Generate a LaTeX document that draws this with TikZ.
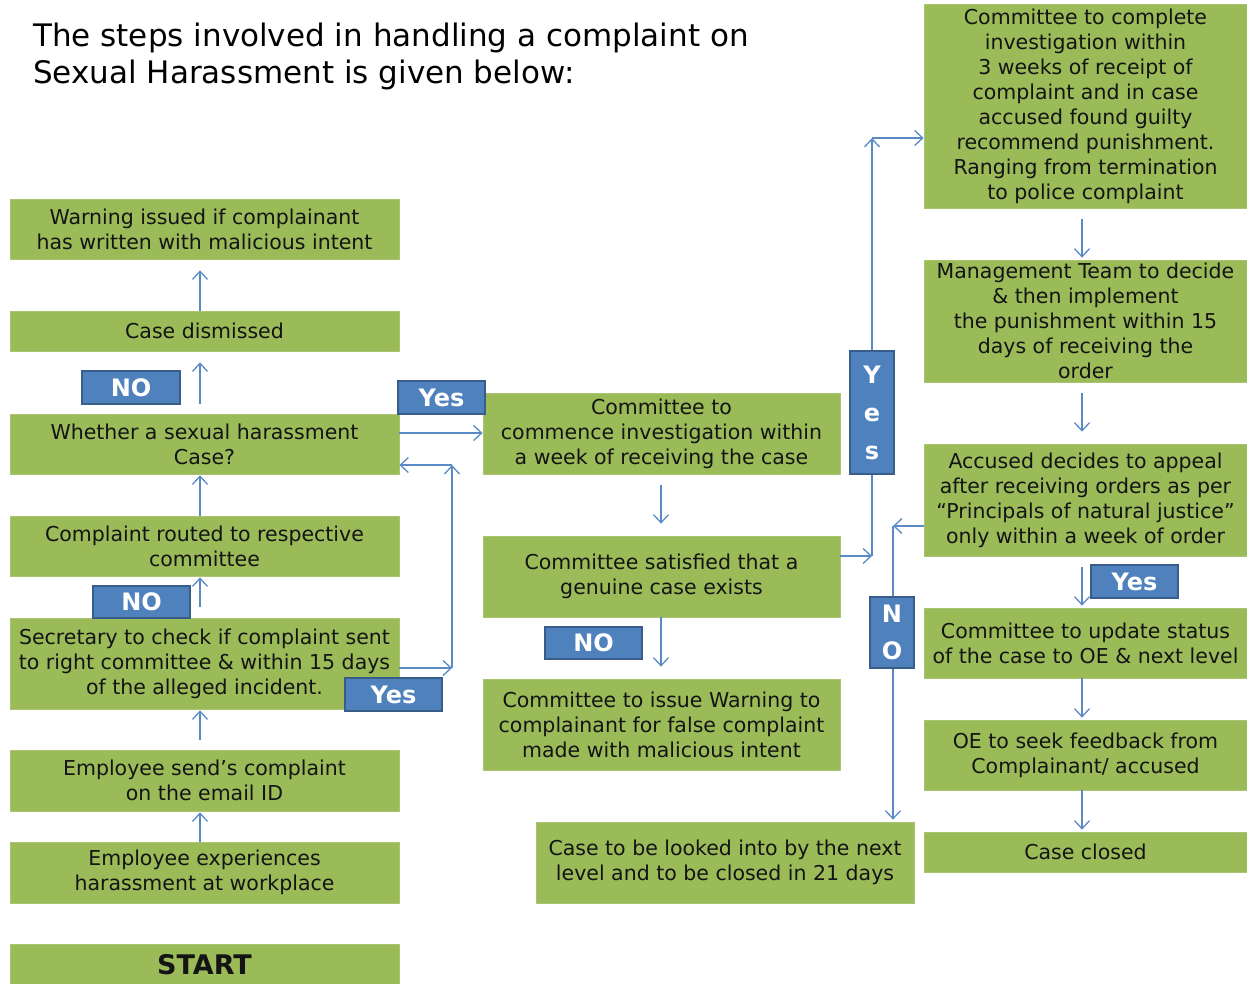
\documentclass[tikz,border=0pt]{standalone}
\usepackage{fontspec}
\setmainfont{DejaVu Sans}
\usetikzlibrary{arrows.meta,calc}
\definecolor{gfill}{HTML}{9BBB59}
\definecolor{gedge}{HTML}{A9C56F}
\definecolor{lfill}{HTML}{4F81BD}
\definecolor{ledge}{HTML}{385D8A}
\definecolor{conn}{HTML}{5A8AC6}
\newcommand{\boxfont}{\fontsize{20.5}{25}\selectfont}
\newcommand{\lblfont}{\bfseries\fontsize{24}{38}\selectfont}
\tikzset{
  gbox/.style={rectangle, fill=gfill, draw=gedge, line width=0.8pt, inner sep=0pt,
    align=center, text=black!92, font=\boxfont},
  lbl/.style={rectangle, fill=lfill, draw=ledge, line width=2pt, inner sep=0pt,
    align=center, text=white, font=\lblfont},
  arr/.style={draw=conn, line width=1.3pt, -{Straight Barb[length=8pt,width=15pt,line width=1.3pt]}}
}
\begin{document}
\begin{tikzpicture}[x=1pt,y=-1pt]
\useasboundingbox (0,0) rectangle (1247,983);

% title
\node[anchor=base west, align=left, inner sep=0pt, font=\fontsize{31}{37}\selectfont, text=black] (title) at (33,83)
  {The steps involved in handling a complaint on\\Sexual Harassment is given below:};

% left column
\node[gbox, minimum width=389, minimum height=60] (warn) at (204.5,229) {Warning issued if complainant\\has written with malicious intent};
\node[gbox, minimum width=389, minimum height=40] (dism) at (204.5,331) {Case dismissed};
\node[gbox, minimum width=389, minimum height=60] (whether) at (204.5,444) {Whether a sexual harassment\\Case?};
\node[gbox, minimum width=389, minimum height=60] (routed) at (204.5,546) {Complaint routed to respective\\committee};
\node[gbox, minimum width=389, minimum height=91] (sec) at (204.5,663.5) {Secretary to check if complaint sent\\to right committee \& within 15 days\\of the alleged incident.};
\node[gbox, minimum width=389, minimum height=61] (send) at (204.5,780.5) {Employee send’s complaint\\on the email ID};
\node[gbox, minimum width=389, minimum height=61] (exp) at (204.5,872.5) {Employee experiences\\harassment at workplace};
\node[gbox, minimum width=389, minimum height=41, font=\bfseries\fontsize{27}{30}\selectfont] (start) at (204.5,964.5) {START};

% middle column
\node[gbox, minimum width=357, minimum height=81] (commence) at (661.5,433.5) {Committee to\\commence investigation within\\a week of receiving the case};
\node[gbox, minimum width=357, minimum height=81] (satisfied) at (661.5,576.5) {Committee satisfied that a\\genuine case exists};
\node[gbox, minimum width=357, minimum height=91] (issue) at (661.5,724.5) {Committee to issue Warning to\\complainant for false complaint\\made with malicious intent};
\node[gbox, minimum width=378, minimum height=81] (look) at (725,862.5) {Case to be looked into by the next\\level and to be closed in 21 days};

% right column
\node[gbox, minimum width=323, minimum height=204] (complete) at (1085.5,106) {Committee to complete\\investigation within\\3 weeks of receipt of\\complaint and in case\\accused found guilty\\recommend punishment.\\Ranging from termination\\to police complaint};
\node[gbox, minimum width=323, minimum height=122] (mgmt) at (1085.5,321) {Management Team to decide\\\& then implement\\the punishment within 15\\days of receiving the\\order};
\node[gbox, minimum width=323, minimum height=112] (accused) at (1085.5,500) {Accused decides to appeal\\after receiving orders as per\\“Principals of natural justice”\\only within a week of order};
\node[gbox, minimum width=323, minimum height=70] (update) at (1085.5,643) {Committee to update status\\of the case to OE \& next level};
\node[gbox, minimum width=323, minimum height=70] (oe) at (1085.5,755) {OE to seek feedback from\\Complainant/ accused};
\node[gbox, minimum width=323, minimum height=40] (closed) at (1085.5,852) {Case closed};

% helper coordinates
\coordinate (lx) at (200,0);
\coordinate (mx) at (661,0);
\coordinate (rx) at (1082,0);
\coordinate (c1) at (452,668);
\coordinate (c2) at (452,465);
\coordinate (h1) at (0,433);
\coordinate (c3) at (872,556);
\coordinate (c4) at (872,138);
\coordinate (c5) at (893,526);

% left column connectors
\draw[arr, shorten >=11pt] (lx |- dism.north) -- (lx |- warn.south);
\draw[arr, shorten <=10pt, shorten >=11pt] (lx |- whether.north) -- (lx |- dism.south);
\draw[arr, shorten >=1pt] (lx |- routed.north) -- (lx |- whether.south);
\draw[arr, shorten <=11pt, shorten >=1pt] (lx |- sec.north) -- (lx |- routed.south);
\draw[arr, shorten <=10pt, shorten >=1pt] (lx |- send.north) -- (lx |- sec.south);
\draw[arr, shorten >=1pt] (lx |- exp.north) -- (lx |- send.south);

% secretary yes loop
\draw[arr] (sec.east |- c1) -- (c1);
\draw[arr] (c1) -- (c2);
\draw[arr] (c2) -- (whether.east |- c2);

% whether -> commence
\draw[arr] (whether.east |- h1) -- (commence.west |- h1);

% middle column connectors
\draw[arr, shorten <=11pt, shorten >=12pt] (mx |- commence.south) -- (mx |- satisfied.north);
\draw[arr, shorten >=12pt] (mx |- satisfied.south) -- (mx |- issue.north);

% satisfied -> complete
\draw[arr] (satisfied.east |- c3) -- (c3);
\draw[arr] (c3) -- (c4);
\draw[arr] (c4) -- (complete.west |- c4);

% accused -> next level
\draw[arr] (accused.west |- c5) -- (c5);
\draw[arr, shorten >=2pt] (c5) -- (c5 |- look.north);

% right column connectors
\draw[arr, shorten <=11pt, shorten >=2pt] (rx |- complete.south) -- (rx |- mgmt.north);
\draw[arr, shorten <=11pt, shorten >=12pt] (rx |- mgmt.south) -- (rx |- accused.north);
\draw[arr, shorten <=11pt, shorten >=2pt] (rx |- accused.south) -- (rx |- update.north);
\draw[arr, shorten >=2pt] (rx |- update.south) -- (rx |- oe.north);
\draw[arr, shorten >=2pt] (rx |- oe.south) -- (rx |- closed.north);

% labels
\node[lbl, minimum width=98, minimum height=33] (noA) at (131,387.5) {NO};
\node[lbl, minimum width=97, minimum height=32] (noB) at (141.5,602) {NO};
\node[lbl, minimum width=87, minimum height=33] (yesA) at (441.5,397.5) {Yes};
\node[lbl, minimum width=97, minimum height=33] (yesB) at (393.5,694.5) {Yes};
\node[lbl, minimum width=97, minimum height=32] (noC) at (593.5,643) {NO};
\node[lbl, minimum width=87, minimum height=33] (yesC) at (1134.5,581.5) {Yes};
\node[lbl, minimum width=44, minimum height=123] (yesV) at (872,412.5) {Y\\e\\s};
\node[lbl, minimum width=44, minimum height=71, font=\bfseries\fontsize{24}{37}\selectfont] (noV) at (892,632.5) {N\\O};
\end{tikzpicture}
\end{document}
